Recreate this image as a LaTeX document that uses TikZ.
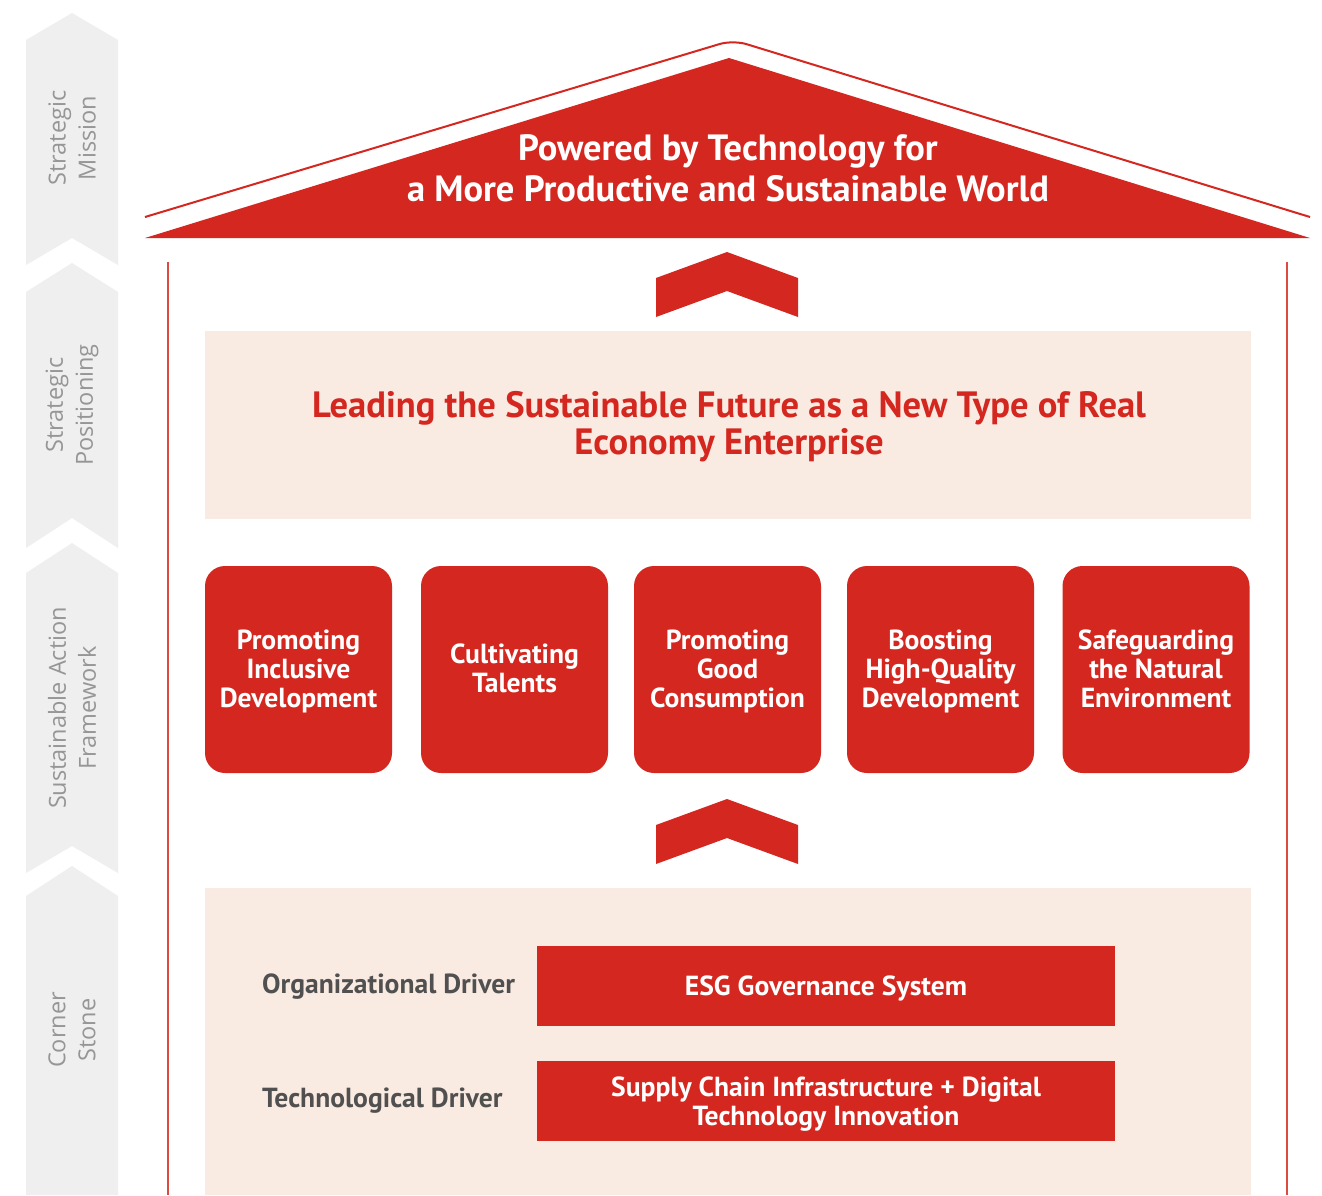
\documentclass[tikz,border=0pt]{standalone}
\usepackage{fontspec}
\setmainfont{PT Sans}
\newfontfamily\sidefont{Open Sans}
\begin{document}
\definecolor{cred}{HTML}{D4271F}
\definecolor{wallred}{HTML}{DC4A42}
\definecolor{beige}{HTML}{FAEBE2}
\definecolor{sidegray}{HTML}{EFEFEF}
\definecolor{sidetext}{HTML}{969696}
\definecolor{darktext}{HTML}{505050}
\begin{tikzpicture}[x=1pt,y=-1pt,
  sidechev/.style={fill=sidegray,draw=none},
  sidelabel/.style={rotate=90,align=center,text=sidetext,font=\sidefont\fontsize{23.5}{30}\selectfont},
  pillar/.style={fill=cred,draw=none,rounded corners=20pt,minimum width=187pt,minimum height=207pt},
  pillartext/.style={align=center,text=white,font=\bfseries\fontsize{27.6}{29}\selectfont},
  upchev/.style={fill=cred,draw=none},
  driverbox/.style={fill=cred,draw=none,minimum width=578pt,minimum height=80pt},
  drivertext/.style={align=center,text=white,font=\bfseries\fontsize{27.6}{29}\selectfont},
  driverlabel/.style={anchor=west,text=darktext,font=\bfseries\fontsize{27.6}{29}\selectfont,inner sep=0pt}
]
\useasboundingbox (0,0) rectangle (1322,1195);
\fill[white] (0,0) rectangle (1322,1195);

% left side chevrons
\fill[sidechev] (26,40)--(72,13)--(118,40)--(118,265)--(72,238)--(26,265)--cycle;
\fill[sidechev] (26,292)--(72,263)--(118,292)--(118,548)--(72,518)--(26,548)--cycle;
\fill[sidechev] (26,573)--(72,543)--(118,573)--(118,873)--(72,846)--(26,873)--cycle;
\fill[sidechev] (26,896)--(72,866)--(118,896)--(118,1195)--(26,1195)--cycle;
\node[sidelabel] (s1) at (72,138) {Strategic\\Mission};
\node[sidelabel] (s2) at (72,405) {Strategic\\Positioning};
\node[sidelabel] (s3) at (72,708) {Sustainable Action\\Framework};
\node[sidelabel] (s4) at (72,1030) {Corner\\Stone};

% roof
\draw[cred,line width=2pt,rounded corners=14pt] (145,217)--(733,40)--(1310,217);
\fill[cred] (145,238)--(729,58)--(1310,238)--cycle;
\node[align=center,text=white,font=\bfseries\fontsize{36.5}{41}\selectfont] (mission) at (728,168)
  {Powered by Technology for\\a More Productive and Sustainable World};

% walls
\draw[wallred,line width=1.6pt] (168,262)--(168,1195);
\draw[wallred,line width=1.6pt] (1287,262)--(1287,1195);

% upward chevrons
\fill[upchev] (656,278)--(727,252)--(798,278)--(798,317)--(727,291)--(656,317)--cycle;
\fill[upchev] (656,825)--(727,799)--(798,825)--(798,864)--(727,838)--(656,864)--cycle;

% positioning
\fill[beige] (205,331) rectangle (1251,519);
\node[align=center,text=cred,font=\bfseries\fontsize{36.6}{37}\selectfont] (pos) at (729,427)
  {Leading the Sustainable Future as a New Type of Real\\Economy Enterprise};

% pillars
\node[pillar] (p1) at (298.5,669.5) {};
\node[pillar] (p2) at (514.5,669.5) {};
\node[pillar] (p3) at (727.5,669.5) {};
\node[pillar] (p4) at (940.5,669.5) {};
\node[pillar] (p5) at (1156,669.5) {};
\node[pillartext] (t1) at ([yshift=-3pt]p1.center) {\strut Promoting\\Inclusive\\Development\strut};
\node[pillartext] (t2) at ([yshift=-3pt]p2.center) {\strut Cultivating\\Talents\strut};
\node[pillartext] (t3) at ([yshift=-3pt]p3.center) {\strut Promoting\\Good\\Consumption\strut};
\node[pillartext] (t4) at ([yshift=-3pt]p4.center) {\strut Boosting\\High-Quality\\Development\strut};
\node[pillartext] (t5) at ([yshift=-3pt]p5.center) {\strut Safeguarding\\the Natural\\Environment\strut};

% corner stone
\fill[beige] (205,888) rectangle (1251,1195);
\node[driverbox] (d1) at (826,986) {};
\node[driverbox] (d2) at (826,1101) {};
\node[drivertext] (dt1) at ([yshift=-2pt]d1.center) {ESG Governance System};
\node[drivertext] (dt2) at ([yshift=-3pt]d2.center) {Supply Chain Infrastructure + Digital\\Technology Innovation};
\node[driverlabel] (l1) at (262,987) {Organizational Driver};
\node[driverlabel] (l2) at (262,1101) {Technological Driver};
\end{tikzpicture}
\end{document}
